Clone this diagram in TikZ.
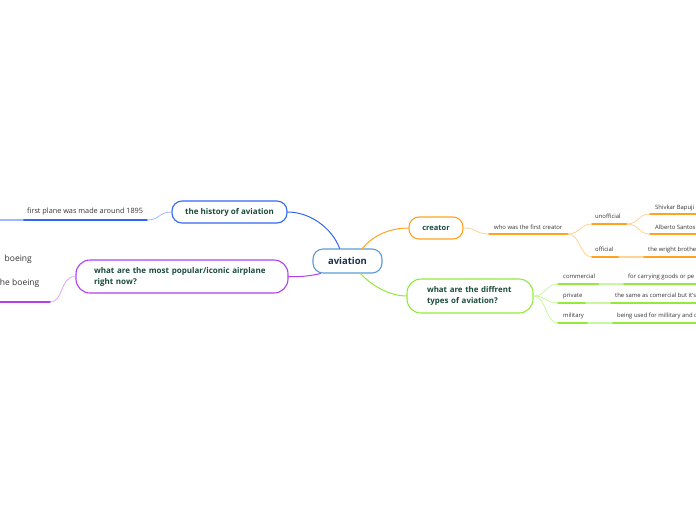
\documentclass[tikz,border=0pt]{standalone}
\usepackage{fontspec}
\setmainfont{Open Sans}
\definecolor{boxtext}{HTML}{1B4B3C}
\definecolor{roottext}{HTML}{1F2D4F}
\definecolor{txt}{HTML}{333333}
\definecolor{rootc}{HTML}{5B9BD5}
\definecolor{bluec}{HTML}{3366F5}
\definecolor{bluel}{HTML}{9DB8FF}
\definecolor{purc}{HTML}{B23FF0}
\definecolor{purl}{HTML}{DDA6F7}
\definecolor{orc}{HTML}{FFA21F}
\definecolor{orl}{HTML}{FFD393}
\definecolor{grc}{HTML}{92EA3A}
\definecolor{grl}{HTML}{C9F6A0}
\begin{document}
\begin{tikzpicture}[x=1pt,y=-1pt,line cap=round,
  box/.style={draw, fill=white, line width=1.1pt, rounded corners=10pt,
    font=\bfseries\fontsize{8}{9}\selectfont, text=boxtext, inner sep=0pt},
  ctext/.style={font=\fontsize{5.9}{7}\selectfont, text=txt, inner sep=0pt, anchor=base west},
  btext/.style={font=\fontsize{8.5}{10}\selectfont, text=txt, inner sep=0pt, anchor=base east},
  ul/.style={line width=1.4pt},
  conn/.style={line width=0.8pt}]
\useasboundingbox (0,0) rectangle (696,520);

% central node
\node[box, draw=rootc, minimum width=69pt, minimum height=24pt,
  font=\bfseries\fontsize{9.5}{11}\selectfont, text=roottext] (root) at (347.5,261) {aviation};

% main topics
\node[box, draw=bluec, minimum width=115pt, minimum height=22pt] (hist) at (229.5,212) {the history of aviation};
\node[box, draw=purc, rounded corners=14pt, minimum height=33pt, text width=176pt, align=left,
  inner xsep=18pt, font=\bfseries\fontsize{8}{11}\selectfont] (pop) at (182,276.5)
  {what are the most popular/iconic airplane\\right now?};
\node[box, draw=orc, minimum width=54pt, minimum height=22pt, font=\bfseries\fontsize{7.5}{9}\selectfont] (cre) at (436,228) {creator};
\node[box, draw=grc, rounded corners=14pt, minimum height=34pt, text width=86pt, align=left,
  inner xsep=20pt, font=\bfseries\fontsize{7.9}{11}\selectfont] (typ) at (470,296)
  {what are the diffrent\\types of aviation?};

% connectors from root
\draw[conn, bluec, line width=1pt] (root.122) .. controls (332,228) and (310,212) .. (hist.east);
\draw[conn, orc, line width=1pt] (root.40) .. controls (374,234) and (392,228) .. (cre.west);
\draw[conn, purc, line width=1pt] (root.205) .. controls (310,276) and (300,277) .. (pop.east);
\draw[conn, grc, line width=1pt] (root.316) .. controls (374,288) and (392,296) .. (typ.west);

% history child
\coordinate (h0) at (0,220);
\coordinate (h1) at (23,220);
\coordinate (h2) at (147,220);
\node[ctext, font=\fontsize{7.3}{8}\selectfont] (ht) at (27,213.5) {first plane was made around 1895};
\draw[conn, bluel] (hist.west) .. controls +(-13,0) and +(13,0) .. (h2);
\draw[ul, bluec] (h1) -- (h2);
\draw[ul, bluel] (h0) -- (h1);

% popular child
\coordinate (p0) at (0,302);
\coordinate (p1) at (50,302);
\node[btext] (pt1) at (32,261.5) {boeing};
\node[btext] (pt2) at (39.5,285.5) {he boeing};
\draw[conn, purl] (pop.west) .. controls +(-16,0) and +(14,0) .. (p1);
\draw[ul, purc] (p0) -- (p1);

% creator children
\coordinate (c1) at (489,234);
\coordinate (c2) at (568,234);
\node[ctext] (ct) at (494,229) {who was the first creator};
\draw[conn, orl] (cre.east) .. controls +(14,0) and +(-14,0) .. (c1);
\draw[ul, orc] (c1) -- (c2);

\coordinate (u1) at (592,224);
\coordinate (u2) at (627,224);
\node[ctext] (ut) at (595,218.5) {unofficial};
\draw[conn, orl] (c2) .. controls +(12,0) and +(-12,0) .. (u1);
\draw[ul, orc] (u1) -- (u2);

\coordinate (o1) at (592,257);
\coordinate (o2) at (619,257);
\coordinate (o3) at (644,257);
\coordinate (o4) at (696,257);
\node[ctext] (ot) at (595,251.5) {official};
\draw[conn, orl] (c2) .. controls +(12,0) and +(-12,0) .. (o1);
\draw[ul, orc] (o1) -- (o2);
\draw[ul, orl] (o2) -- (o3);
\draw[ul, orc] (o3) -- (o4);
\node[ctext] (ow) at (648,251.5) {the wright brothe};

\coordinate (s1) at (650,214);
\coordinate (s2) at (696,214);
\node[ctext] (st) at (655,209) {Shivkar Bapuji};
\draw[conn, orl] (u2) .. controls +(12,0) and +(-12,0) .. (s1);
\draw[ul, orc] (s1) -- (s2);

\coordinate (a1) at (650,234);
\coordinate (a2) at (696,234);
\node[ctext] (at) at (655,229) {Alberto Santos};
\draw[conn, orl] (u2) .. controls +(12,0) and +(-12,0) .. (a1);
\draw[ul, orc] (a1) -- (a2);

% types children
\coordinate (k1) at (558,284);
\coordinate (k2) at (599,284);
\coordinate (k3) at (624,284);
\coordinate (k4) at (696,284);
\node[ctext] (kt) at (563,278.5) {commercial};
\node[ctext] (kd) at (628,278.5) {for carrying goods or pe};
\draw[conn, grl] (typ.east) .. controls +(13,0) and +(-13,0) .. (k1);
\draw[ul, grc] (k1) -- (k2);
\draw[ul, grl] (k2) -- (k3);
\draw[ul, grc] (k3) -- (k4);

\coordinate (v1) at (558,303);
\coordinate (v2) at (586,303);
\coordinate (v3) at (611,303);
\coordinate (v4) at (696,303);
\node[ctext] (vt) at (563,297.5) {private};
\node[ctext] (vd) at (615,297.5) {the same as comercial but it's};
\draw[conn, grl] (typ.east) .. controls +(13,0) and +(-13,0) .. (v1);
\draw[ul, grc] (v1) -- (v2);
\draw[ul, grl] (v2) -- (v3);
\draw[ul, grc] (v3) -- (v4);

\coordinate (m1) at (558,323);
\coordinate (m2) at (588,323);
\coordinate (m3) at (613,323);
\coordinate (m4) at (696,323);
\node[ctext] (mt) at (563,317.5) {military};
\node[ctext] (md) at (617,317.5) {being used for millitary and c};
\draw[conn, grl] (typ.east) .. controls +(13,0) and +(-13,0) .. (m1);
\draw[ul, grc] (m1) -- (m2);
\draw[ul, grl] (m2) -- (m3);
\draw[ul, grc] (m3) -- (m4);
\end{tikzpicture}
\end{document}
